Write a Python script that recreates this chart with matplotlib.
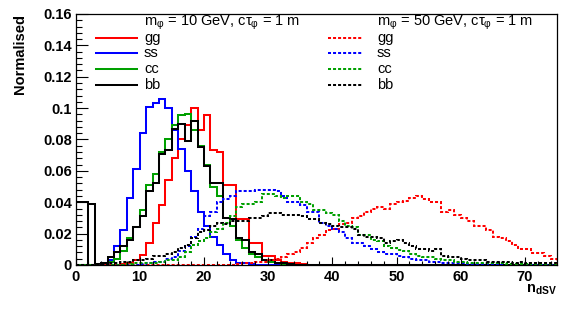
import numpy as np
import matplotlib
matplotlib.use("Agg")
import matplotlib.pyplot as plt
from matplotlib.ticker import MultipleLocator, FuncFormatter

plt.rcParams['font.family'] = ['Liberation Sans', 'DejaVu Sans']
plt.rcParams['mathtext.fontset'] = 'custom'
plt.rcParams['mathtext.rm'] = 'Liberation Sans'
plt.rcParams['mathtext.bf'] = 'Liberation Sans:bold'
plt.rcParams['mathtext.it'] = 'Liberation Sans:italic'

nbins = 75
edges = np.arange(nbins + 1)


def pad(vals):
    out = np.zeros(nbins)
    out[:len(vals)] = vals
    return out


# m_phi = 10 GeV, ctau = 1 m  (solid)
gg10 = pad([0, 0, 0, 0, 0, 0, 0.0003, 0.0005, 0.001, 0.003, 0.0064, 0.014, 0.0265, 0.038,
            0.054, 0.068, 0.080, 0.089, 0.0998, 0.086, 0.0955, 0.073, 0.072, 0.051, 0.051,
            0.029, 0.029, 0.014, 0.014, 0.006, 0.006, 0.003, 0.002, 0.001, 0.001, 0.0005])
ss10 = pad([0, 0, 0, 0, 0.001, 0.003, 0.012, 0.022, 0.043, 0.061, 0.084, 0.101, 0.103,
            0.1055, 0.100, 0.086, 0.074, 0.060, 0.047, 0.034, 0.025, 0.018, 0.013, 0.007,
            0.003, 0.0015, 0.001, 0.0005, 0.0003])
cc10 = pad([0, 0, 0, 0.0005, 0.001, 0.002, 0.004, 0.009, 0.017, 0.024, 0.035, 0.051, 0.058,
            0.072, 0.080, 0.089, 0.0955, 0.096, 0.086, 0.076, 0.064, 0.050, 0.044, 0.030,
            0.025, 0.016, 0.011, 0.007, 0.005, 0.003, 0.002, 0.001, 0.0005])
bb10 = pad([0.040, 0.040, 0.039, 0.0005, 0.001, 0.005, 0.0085, 0.012, 0.016, 0.024, 0.031,
            0.047, 0.052, 0.071, 0.073, 0.087, 0.090, 0.079, 0.092, 0.075, 0.063, 0.052,
            0.052, 0.030, 0.029, 0.017, 0.016, 0.008, 0.007, 0.003, 0.003, 0.001, 0.001,
            0.0005])

# m_phi = 50 GeV, ctau = 1 m  (dashed)
gg50 = pad([0] * 25 + [0.0005, 0.001, 0.001, 0.002, 0.002, 0.003, 0.004, 0.005, 0.007, 0.008,
                       0.011, 0.014, 0.017, 0.019, 0.022, 0.023, 0.026, 0.027, 0.030, 0.031,
                       0.034, 0.036, 0.037, 0.036, 0.039, 0.040, 0.041, 0.043, 0.044, 0.042,
                       0.040, 0.040, 0.034, 0.035, 0.032, 0.030, 0.028, 0.025, 0.025, 0.022,
                       0.018, 0.017, 0.015, 0.013, 0.010, 0.010, 0.0075, 0.0075, 0.006, 0.004])
ss50 = pad([0] * 10 + [0.0005, 0.001, 0.002, 0.002, 0.004, 0.005, 0.009, 0.012, 0.018, 0.023,
                       0.031, 0.034, 0.040, 0.042, 0.044, 0.047, 0.047, 0.047, 0.048, 0.048,
                       0.048, 0.047, 0.044, 0.040, 0.040, 0.038, 0.034, 0.034, 0.027, 0.025,
                       0.023, 0.021, 0.017, 0.014, 0.014, 0.012, 0.010, 0.008, 0.007, 0.007,
                       0.006, 0.005, 0.004, 0.003, 0.003, 0.002, 0.002, 0.0015, 0.001, 0.001,
                       0.001, 0.0005, 0.0005, 0.0005, 0.0005, 0.0005])
cc50 = pad([0] * 8 + [0.0005, 0.001, 0.001, 0.001, 0.001, 0.002, 0.003, 0.003, 0.005, 0.008,
                      0.013, 0.015, 0.017, 0.021, 0.023, 0.027, 0.031, 0.037, 0.039, 0.039,
                      0.040, 0.045, 0.045, 0.044, 0.043, 0.044, 0.044, 0.040, 0.039, 0.035,
                      0.035, 0.033, 0.032, 0.028, 0.025, 0.024, 0.019, 0.019, 0.016, 0.015,
                      0.012, 0.011, 0.0095, 0.009, 0.007, 0.006, 0.005, 0.005, 0.004, 0.003,
                      0.003, 0.002, 0.002, 0.0015, 0.001, 0.001, 0.001, 0.001, 0.001, 0.0005,
                      0.0005, 0.0005, 0.0005])
bb50 = pad([0] * 5 + [0.001, 0.001, 0.002, 0.002, 0.003, 0.003, 0.004, 0.006, 0.006, 0.007,
                      0.008, 0.011, 0.013, 0.017, 0.021, 0.022, 0.025, 0.027, 0.026, 0.028,
                      0.028, 0.028, 0.030, 0.030, 0.031, 0.033, 0.033, 0.032, 0.032, 0.032,
                      0.031, 0.029, 0.029, 0.027, 0.026, 0.025, 0.024, 0.024, 0.023, 0.019,
                      0.018, 0.018, 0.017, 0.014, 0.015, 0.016, 0.014, 0.012, 0.010, 0.010,
                      0.009, 0.010, 0.006, 0.005, 0.005, 0.004, 0.003, 0.003, 0.003, 0.002,
                      0.002, 0.002, 0.002, 0.001, 0.002, 0.001, 0.001, 0.001, 0.001, 0.001])

labels = ['gg', 'ss', 'cc', 'bb']
colors = ['#ff0000', '#0000ff', '#00a000', '#000000']
header10 = r'm$_{\mathrm{φ}}$ = 10 GeV, cτ$_{\mathrm{φ}}$ = 1 m'
header50 = r'm$_{\mathrm{φ}}$ = 50 GeV, cτ$_{\mathrm{φ}}$ = 1 m'

lw = 1.45
dash = (0, (1.5, 1.0))

fig = plt.figure(figsize=(5.81, 3.13), dpi=100)
ax = fig.add_axes([0.130, 0.1534, 0.8287, 0.8019])

# solid: 10 GeV
for vals, c in zip([gg10, ss10, cc10], colors[:3]):
    ax.stairs(vals, edges, baseline=0, color=c, lw=lw)
ax.stairs(bb10[:2], edges[:3], baseline=0, color=colors[3], lw=lw)
ax.stairs(bb10[2:], edges[2:], baseline=0, color=colors[3], lw=lw)

# dashed: 50 GeV
for vals, c in zip([gg50, ss50, cc50, bb50], colors):
    ax.stairs(vals, edges, baseline=0, color=c, lw=lw, linestyle=dash)

ax.set_xlim(0, 75)
ax.set_ylim(0, 0.16)

ax.xaxis.set_major_locator(MultipleLocator(10))
ax.xaxis.set_minor_locator(MultipleLocator(2))
ax.yaxis.set_major_locator(MultipleLocator(0.02))
ax.yaxis.set_minor_locator(MultipleLocator(0.004))
ax.yaxis.set_major_formatter(FuncFormatter(lambda v, p: '%g' % round(v, 3)))

ax.tick_params(axis='both', which='both', direction='in', top=False, right=False,
               width=0.8, labelsize=10.5)
ax.tick_params(axis='y', which='major', length=8.5, pad=2.5)
ax.tick_params(axis='y', which='minor', length=4.3)
ax.tick_params(axis='x', which='major', length=6, pad=3.5)
ax.tick_params(axis='x', which='minor', length=3)
for lab in ax.get_xticklabels() + ax.get_yticklabels():
    lab.set_fontweight('bold')
for s in ax.spines.values():
    s.set_linewidth(0.9)

ax.set_ylabel('Normalised', fontsize=10.5, fontweight='bold', loc='top')
ax.yaxis.set_label_coords(-0.10, 1.0)
ax.set_xlabel(r'$\mathbf{n}_{\mathbf{dSV}}$', fontsize=10.5, loc='right')
ax.xaxis.set_label_coords(1.0, -0.07)

# legends (drawn by hand, ROOT style, no frame)
rows = [0.904, 0.845, 0.781, 0.717]
for x0, x1, xt, head, ls in [(0.0426, 0.1277, 0.1423, header10, '-'),
                             (0.5244, 0.5971, 0.6262, header50, dash)]:
    ax.text(xt, 0.964, head, transform=ax.transAxes, fontsize=10.5, va='center', ha='left')
    for y, lab, c in zip(rows, labels, colors):
        ax.plot([x0, x1], [y, y], transform=ax.transAxes, color=c, lw=lw, linestyle=ls)
        ax.text(xt, y, lab, transform=ax.transAxes, fontsize=10.5, va='center', ha='left')

fig.savefig('out.png', dpi=100)
